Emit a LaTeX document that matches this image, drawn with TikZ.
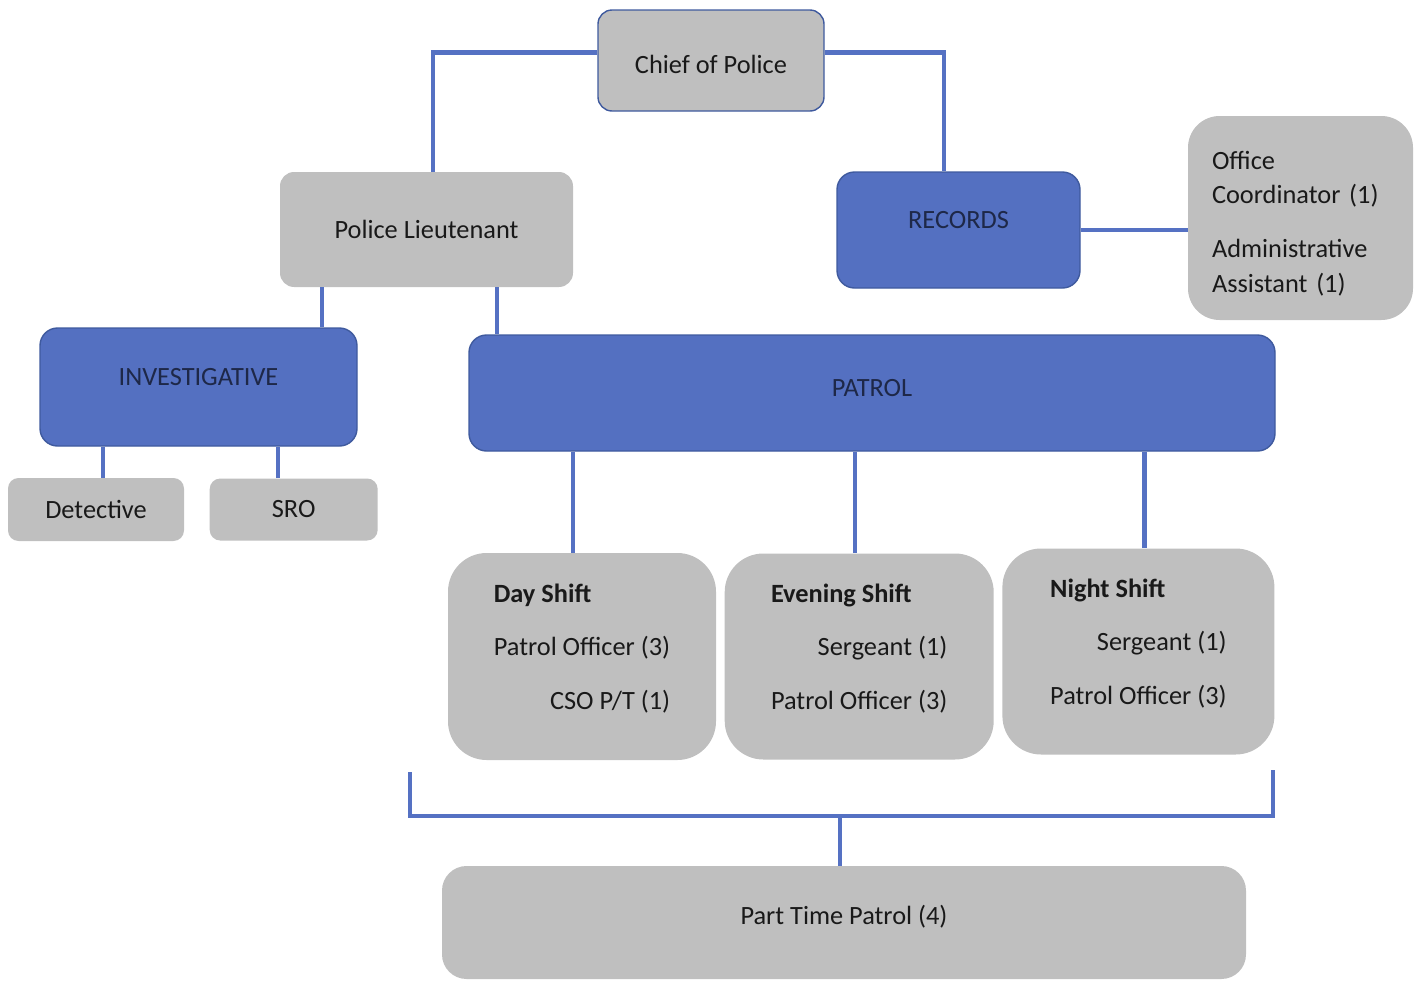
\documentclass[tikz,border=0pt]{standalone}
\usepackage{fontspec}
\setmainfont{Carlito}
\usepackage{tikz}
\usetikzlibrary{positioning}
\definecolor{boxgray}{HTML}{BFBFBF}
\definecolor{boxblue}{HTML}{5470C1}
\definecolor{edgeblue}{HTML}{3F5A9E}
\definecolor{lineblue}{HTML}{5571C3}
\definecolor{navytext}{HTML}{1E2848}

\begin{document}
\begin{tikzpicture}[x=0.02cm, y=-0.02cm]
  \tikzset{BoxSize/.style 2 args = {minimum width  = #1*0.02cm,
                                    minimum height = #2*0.02cm}}
  \tikzset{GrayStyle/.style = {shape          = rectangle,
                               fill           = boxgray,
                               text           = black!90,
                               rounded corners = #1,
                               inner sep      = 0pt,
                               font           = \fontsize{15}{18}\selectfont},
           GrayStyle/.default = 8pt}
  \tikzset{BlueStyle/.style = {shape          = rectangle,
                               fill           = boxblue,
                               draw           = edgeblue,
                               line width     = 0.8pt,
                               text           = navytext,
                               rounded corners = 10pt,
                               inner sep      = 0pt,
                               font           = \fontsize{15}{18}\selectfont}}
  \tikzset{LinkStyle/.style = {draw=lineblue, line width=2.4pt}}
  \useasboundingbox (0,0) rectangle (1418,981);
	%%% TOP %%%
	\node[GrayStyle, draw=edgeblue, line width=0.8pt, BoxSize={226}{101}, text height=0.52cm](chief) at (711,60.5){Chief of Police};
	\node[GrayStyle, BoxSize={293}{115}](lieut) at (426.5,229.5){Police Lieutenant};
	\node[BlueStyle, BoxSize={243}{116}, text depth=0.4cm](records) at (958.5,230){RECORDS};
	\node[GrayStyle=18pt, BoxSize={225}{204}, align=left, text width=3.54cm,
	      font=\fontsize{15}{19.8}\selectfont](office) at (1300.5,218)
	      {\rule{0pt}{16.5pt}Office\\Coordinator (1)\\[10.8pt]Administrative\\Assistant (1)};
	\draw[LinkStyle]([yshift=0.16cm]chief.west) -| ([xshift=0.13cm]lieut.north);
	\draw[LinkStyle]([yshift=0.16cm]chief.east) -| ([xshift=-0.29cm]records.north);
	\draw[LinkStyle](records.east) -- (records.east -| office.west);
	%%% INVESTIGATIVE %%%
	\node[BlueStyle, BoxSize={317}{118}, text depth=0.4cm](invest) at (198.5,387){INVESTIGATIVE};
	\node[GrayStyle=6pt, BoxSize={176}{63}](detect) at (96,509.5){Detective};
	\node[GrayStyle=6pt, BoxSize={168}{62}, right=0.5cm of detect](sro){SRO};
	\draw[LinkStyle]([xshift=-2.09cm]lieut.south) -- ([xshift=-2.09cm]lieut.south |- invest.north);
	\draw[LinkStyle]([xshift=0.14cm]detect.north) -- ([xshift=0.14cm]detect.north |- invest.south);
	\draw[LinkStyle]([xshift=-0.32cm]sro.north) -- ([xshift=-0.32cm]sro.north |- invest.south);
	%%% PATROL %%%
	\node[BlueStyle, BoxSize={806}{116}, text depth=0.2cm](patrol) at (872,393){PATROL};
	\draw[LinkStyle]([xshift=1.41cm]lieut.south) -- ([xshift=1.41cm]lieut.south |- patrol.north);
	\node[GrayStyle=22pt, BoxSize={268}{207}](day) at (582,656.5){%
	  \begin{tabular}{@{}r@{}}\multicolumn{1}{@{}l@{}}{\bfseries Day Shift}\\[12.6pt]
	  Patrol Officer (3)\\[12.6pt] CSO P/T (1)\\[8pt]\end{tabular}};
	\node[GrayStyle=22pt, BoxSize={269}{206}, right=0.16cm of day](evening){%
	  \begin{tabular}{@{}r@{}}\multicolumn{1}{@{}l@{}}{\bfseries Evening Shift}\\[12.6pt]
	  Sergeant (1)\\[12.6pt] Patrol Officer (3)\\[8pt]\end{tabular}};
	\node[GrayStyle=22pt, BoxSize={272}{206}, right=0.16cm of evening, yshift=0.1cm](night){%
	  \begin{tabular}{@{}r@{}}\multicolumn{1}{@{}l@{}}{\bfseries Night Shift}\\[12.6pt]
	  Sergeant (1)\\[12.6pt] Patrol Officer (3)\\[8pt]\end{tabular}};
	\draw[LinkStyle]([xshift=-0.18cm]day.north) -- ([xshift=-0.18cm]day.north |- patrol.south);
	\draw[LinkStyle]([xshift=-0.09cm]evening.north) -- ([xshift=-0.09cm]evening.north |- patrol.south);
	\draw[LinkStyle]([xshift=0.12cm]night.north) -- ([xshift=0.12cm]night.north |- patrol.south);
	%%% PART TIME %%%
	\node[GrayStyle=14pt, BoxSize={804}{113}, text depth=0.31cm](ptime) at (844,922.5){Part Time Patrol (4)};
	\coordinate (brleft) at (410,772);
	\coordinate (brright) at (1273,770);
	\draw[LinkStyle](brleft) -- ++(0,44) -| (brright);
	\draw[LinkStyle]([xshift=-0.08cm]ptime.north) -- ++(0,-50);
\end{tikzpicture}
\end{document}
